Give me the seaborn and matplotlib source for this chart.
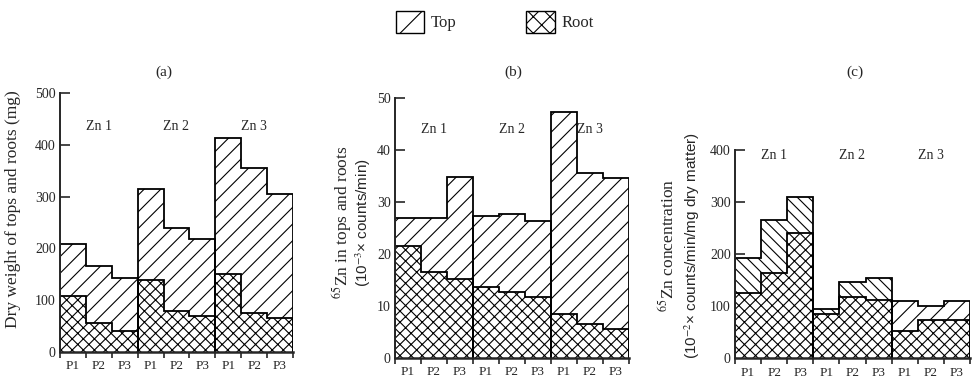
import numpy as np
import pandas as pd
import matplotlib
matplotlib.use('Agg')
import matplotlib.pyplot as plt
from matplotlib.patches import Patch
import seaborn as sns

# values (bar heights on each panel's own scale)
groups = ['Zn 1', 'Zn 2', 'Zn 3']
p_levels = ['P1', 'P2', 'P3']

a_top = [208, 165, 143, 315, 240, 219, 413, 355, 306]
a_root = [108, 56, 41, 139, 79, 70, 150, 75, 66]

b_top = [26.8, 26.9, 34.7, 27.3, 27.7, 26.2, 47.2, 35.5, 34.6]
b_root = [21.4, 16.4, 15.1, 13.6, 12.6, 11.6, 8.5, 6.4, 5.6]

c_top = [192, 265, 310, 94, 147, 155, 110, 101, 110]
c_root = [126, 163, 240, 85, 117, 112, 52, 73, 73]

sns.set_style('ticks')
plt.rcParams['font.family'] = ['Liberation Serif', 'DejaVu Serif']
plt.rcParams['mathtext.fontset'] = 'stix'
plt.rcParams['hatch.linewidth'] = 0.8

cats = [f'{g} {p}' for g in groups for p in p_levels]

TOP_HATCH = '//'
ROOT_HATCH = 'xxx'


def draw_panel(ax, top, root, top_hatches, ymax, ystep, zn_y):
    df = pd.DataFrame({'cat': cats, 'top': top, 'root': root})
    sns.barplot(data=df, x='cat', y='top', order=cats, color='white', saturation=1,
                edgecolor='black', linewidth=0, width=1, errorbar=None, ax=ax)
    for patch, h in zip(ax.patches, top_hatches):
        patch.set_hatch(h)
    n_top = len(ax.patches)
    sns.barplot(data=df, x='cat', y='root', order=cats, color='white', saturation=1,
                edgecolor='black', linewidth=0, width=1, errorbar=None, ax=ax)
    for patch in ax.patches[n_top:]:
        patch.set_hatch(ROOT_HATCH)

    # step outlines per Zn group
    for i in range(len(groups)):
        edges = np.arange(3 * i - 0.5, 3 * i + 3)
        ax.stairs(top[3 * i:3 * i + 3], edges, baseline=0, color='black', lw=1.3)
        ax.stairs(root[3 * i:3 * i + 3], edges, baseline=0, color='black', lw=1.3)
        ax.text(3 * i + 1, zn_y, groups[i], ha='center', va='center', fontsize=10)

    ax.set_xlim(-0.5, 8.5)
    ax.set_ylim(0, ymax)
    ax.set_yticks(np.arange(0, ymax + ystep / 2, ystep))
    ax.set_xticks(range(9))
    ax.set_xticklabels(p_levels * 3, fontsize=9.5)
    ax.set_xticks(np.arange(-0.5, 9, 1), minor=True)
    ax.tick_params(axis='x', which='major', length=0, pad=6)
    ax.tick_params(axis='x', which='minor', length=4, width=1.2, direction='out')
    ax.tick_params(axis='y', length=7, width=1.2, direction='in', labelsize=10, pad=3)
    ax.set_xlabel('')
    ax.set_ylabel('')
    sns.despine(ax=ax)
    ax.spines['left'].set_linewidth(1.4)
    ax.spines['bottom'].set_linewidth(1.8)


fig = plt.figure(figsize=(9.74, 3.84), dpi=100)
ax_a = fig.add_axes([0.0616, 0.0841, 0.2392, 0.673])
ax_b = fig.add_axes([0.4055, 0.0685, 0.2402, 0.677])
ax_c = fig.add_axes([0.7546, 0.0669, 0.2413, 0.5425])

draw_panel(ax_a, a_top, a_root, [TOP_HATCH] * 9, 500, 100, 435)
draw_panel(ax_b, b_top, b_root, [TOP_HATCH] * 9, 50, 10, 43.9)
draw_panel(ax_c, c_top, c_root, ['\\\\\\'] * 6 + [TOP_HATCH] * 3, 400, 100, 390)

ax_a.text(-0.2, 0.55, 'Dry weight of tops and roots (mg)', rotation=90,
          ha='center', va='center', fontsize=12.5, transform=ax_a.transAxes)
ax_b.text(-0.228, 0.52, '$^{65}$Zn in tops and roots', rotation=90,
          ha='center', va='center', fontsize=12.5, transform=ax_b.transAxes)
ax_b.text(-0.135, 0.52, '(10$^{-3}$× counts/min)', rotation=90,
          ha='center', va='center', fontsize=11, family='Liberation Sans',
          transform=ax_b.transAxes)
ax_c.text(-0.285, 0.54, '$^{65}$Zn concentration', rotation=90,
          ha='center', va='center', fontsize=12.5, transform=ax_c.transAxes)
ax_c.text(-0.18, 0.54, '(10$^{-2}$× counts/min/mg dry matter)', rotation=90,
          ha='center', va='center', fontsize=11, family='Liberation Sans',
          transform=ax_c.transAxes)

fig.text(164 / 974, 1 - 72 / 384, '(a)', ha='center', va='center', fontsize=11)
fig.text(513 / 974, 1 - 72 / 384, '(b)', ha='center', va='center', fontsize=11)
fig.text(855 / 974, 1 - 72 / 384, '(c)', ha='center', va='center', fontsize=11)

handles = [Patch(facecolor='white', edgecolor='black', hatch='/', label='Top'),
           Patch(facecolor='white', edgecolor='black', hatch='xx', label='Root')]
fig.legend(handles=handles, loc='center', bbox_to_anchor=(0.508, 1 - 22 / 384), ncol=2,
           frameon=False, fontsize=12, handlelength=1.7, handleheight=1.7,
           handletextpad=0.4, columnspacing=4.2)

fig.savefig('out.png', dpi=100)
